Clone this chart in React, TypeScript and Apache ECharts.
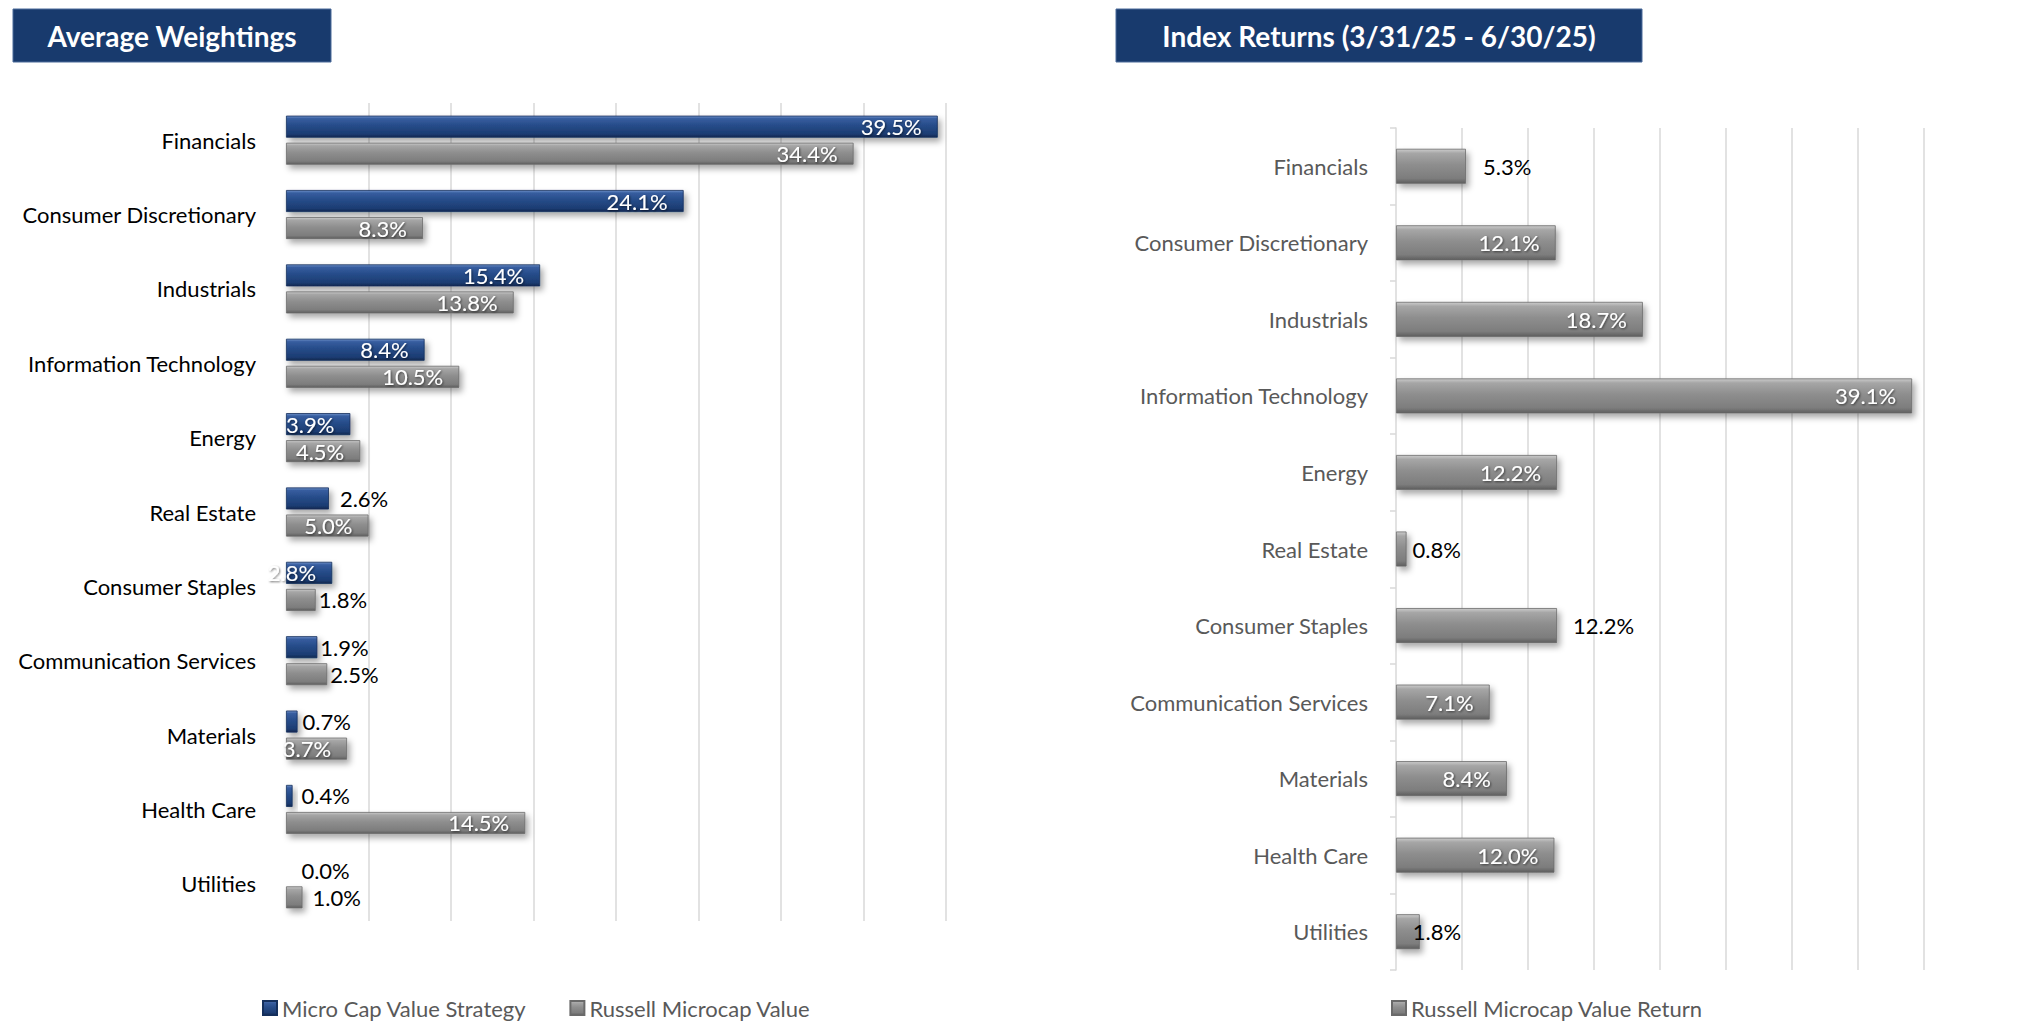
import React, { useEffect, useRef } from "react";
import * as echarts from "echarts";

const categories = [
  "Financials",
  "Consumer Discretionary",
  "Industrials",
  "Information Technology",
  "Energy",
  "Real Estate",
  "Consumer Staples",
  "Communication Services",
  "Materials",
  "Health Care",
  "Utilities",
];
const strategyWeights = [39.5, 24.1, 15.4, 8.4, 3.9, 2.6, 2.8, 1.9, 0.7, 0.4, 0.0];
const russellWeights = [34.4, 8.3, 13.8, 10.5, 4.5, 5.0, 1.8, 2.5, 3.7, 14.5, 1.0];
const indexReturns = [5.3, 12.1, 18.7, 39.1, 12.2, 0.8, 12.2, 7.1, 8.4, 12.0, 1.8];
const axisMax = 40;
const axisStep = 5;

const leftTitle = "Average Weightings";
const rightTitle = "Index Returns (3/31/25 - 6/30/25)";
const strategyName = "Micro Cap Value Strategy";
const russellName = "Russell Microcap Value";
const returnName = "Russell Microcap Value Return";

// label placement (style): index -> outside distance; others drawn inside
const strategyOutside: Record<number, number> = { 5: 11, 7: 3, 8: 5, 9: 9, 10: 15 };
const russellOutside: Record<number, number> = { 6: 3, 7: 3, 10: 10 };
const returnOutside: Record<number, number> = { 0: 17, 5: 6, 6: 16, 10: -7 };

const FONT = "Lato, 'Open Sans', sans-serif";

const blueFill = new echarts.graphic.LinearGradient(0, 0, 0, 1, [
  { offset: 0, color: "#6e90c8" },
  { offset: 0.12, color: "#375d9f" },
  { offset: 0.45, color: "#264c89" },
  { offset: 0.85, color: "#1c3c72" },
  { offset: 1, color: "#102850" },
]);
const grayFill = new echarts.graphic.LinearGradient(0, 0, 0, 1, [
  { offset: 0, color: "#cccccc" },
  { offset: 0.12, color: "#a6a6a6" },
  { offset: 0.45, color: "#8e8e8e" },
  { offset: 0.85, color: "#7d7d7d" },
  { offset: 1, color: "#5e5e5e" },
]);

const barShadow = {
  shadowColor: "rgba(0,0,0,0.35)",
  shadowBlur: 6,
  shadowOffsetX: 3,
  shadowOffsetY: 4,
};

function buildData(values: number[], outside: Record<number, number>) {
  return values.map((v, i) => {
    const isOut = Object.prototype.hasOwnProperty.call(outside, i);
    return {
      value: v,
      label: isOut
        ? { position: "right", distance: outside[i], color: "#000000", textShadowBlur: 0 }
        : {
            position: "insideRight",
            distance: 16,
            color: "#ffffff",
            textShadowColor: "rgba(0,0,0,0.55)",
            textShadowBlur: 2,
            textShadowOffsetX: 1,
            textShadowOffsetY: 1,
          },
    };
  });
}

const valueLabel = {
  show: true,
  fontFamily: FONT,
  fontSize: 22,
  formatter: (p: any) => `${Number(p.value).toFixed(1)}%`,
};

export default function App() {
  const ref = useRef<HTMLDivElement>(null);

  useEffect(() => {
    document.body.style.margin = "0";
    if (!ref.current) return;
    const chart = echarts.init(ref.current, undefined, { renderer: "svg" });
    const valueAxisBase = {
      type: "value",
      min: 0,
      max: axisMax,
      interval: axisStep,
      axisLabel: { show: false },
      axisLine: { show: false },
      axisTick: { show: false },
      splitLine: { show: true, showMinLine: false, lineStyle: { color: "#d9d9d9", width: 1.5 } },
    };
    chart.setOption({
      animation: false,
      backgroundColor: "#ffffff",
      textStyle: { fontFamily: FONT },
      grid: [
        { left: 286, top: 103, width: 660, height: 818 },
        { left: 1396, top: 128, width: 528, height: 842 },
      ],
      xAxis: [
        { ...valueAxisBase, gridIndex: 0 },
        { ...valueAxisBase, gridIndex: 1 },
      ],
      yAxis: [
        {
          type: "category",
          gridIndex: 0,
          data: categories,
          inverse: true,
          axisLine: { show: false },
          axisTick: { show: false },
          axisLabel: { margin: 30, fontSize: 22, color: "#000000", fontFamily: FONT },
        },
        {
          type: "category",
          gridIndex: 1,
          data: categories,
          inverse: true,
          axisLine: { show: true, lineStyle: { color: "#d9d9d9", width: 1.5 } },
          axisTick: { show: true, length: 6, lineStyle: { color: "#d9d9d9", width: 1.5 } },
          axisLabel: { margin: 28, fontSize: 22, color: "#595959", fontFamily: FONT },
        },
      ],
      legend: [
        {
          data: [strategyName, russellName],
          left: 262,
          top: 997,
          padding: 0,
          orient: "horizontal",
          icon: "rect",
          itemWidth: 14,
          itemHeight: 14,
          itemGap: 43,
          textStyle: { fontSize: 22, color: "#595959", fontFamily: FONT },
        },
        {
          data: [returnName],
          left: 1391,
          top: 997,
          padding: 0,
          icon: "rect",
          itemWidth: 14,
          itemHeight: 14,
          textStyle: { fontSize: 22, color: "#595959", fontFamily: FONT },
        },
      ],
      series: [
        {
          name: strategyName,
          type: "bar",
          xAxisIndex: 0,
          yAxisIndex: 0,
          barWidth: 22,
          barGap: "23%",
          data: buildData(strategyWeights, strategyOutside),
          itemStyle: { color: blueFill, borderColor: "#142f5c", borderWidth: 0.8, ...barShadow },
          label: valueLabel,
        },
        {
          name: russellName,
          type: "bar",
          xAxisIndex: 0,
          yAxisIndex: 0,
          barWidth: 22,
          barGap: "23%",
          data: buildData(russellWeights, russellOutside),
          itemStyle: { color: grayFill, borderColor: "#6a6a6a", borderWidth: 0.8, ...barShadow },
          label: valueLabel,
        },
        {
          name: returnName,
          type: "bar",
          xAxisIndex: 1,
          yAxisIndex: 1,
          barWidth: 35,
          data: buildData(indexReturns, returnOutside),
          itemStyle: { color: grayFill, borderColor: "#6a6a6a", borderWidth: 0.8, ...barShadow },
          label: valueLabel,
        },
      ],
      graphic: [
        {
          type: "rect",
          shape: { x: 13, y: 9, width: 318, height: 53 },
          style: { fill: "#183a6d", stroke: "#4a6a9a", lineWidth: 1 },
        },
        {
          type: "text",
          x: 172,
          y: 36,
          style: {
            text: leftTitle,
            align: "center",
            verticalAlign: "middle",
            fill: "#ffffff",
            fontSize: 28,
            fontWeight: "bold",
            fontFamily: FONT,
          },
        },
        {
          type: "rect",
          shape: { x: 1116, y: 9, width: 526, height: 53 },
          style: { fill: "#183a6d", stroke: "#4a6a9a", lineWidth: 1 },
        },
        {
          type: "text",
          x: 1379,
          y: 36,
          style: {
            text: rightTitle,
            align: "center",
            verticalAlign: "middle",
            fill: "#ffffff",
            fontSize: 28,
            fontWeight: "bold",
            fontFamily: FONT,
          },
        },
      ],
    });
    return () => chart.dispose();
  }, []);

  return <div ref={ref} style={{ width: 2040, height: 1029 }} />;
}
